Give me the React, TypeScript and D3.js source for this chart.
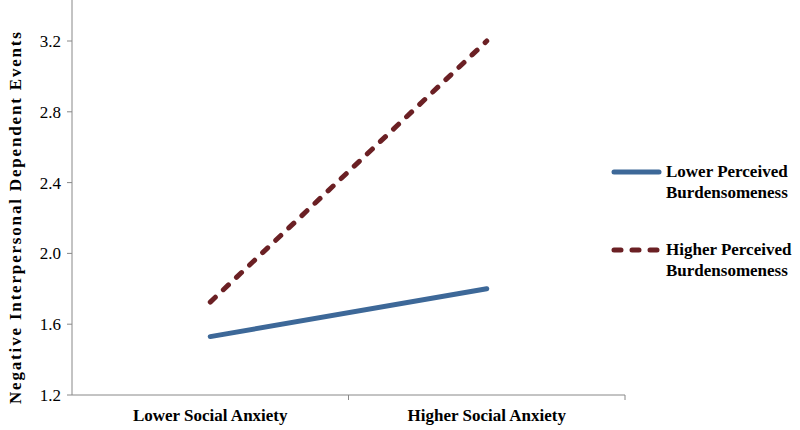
import React from "react";
import * as d3 from "d3";

const categories = ["Lower Social Anxiety", "Higher Social Anxiety"];
const lowerPB = [1.53, 1.8];
const higherPB = [1.725, 3.2];
const yTicks = [1.2, 1.6, 2.0, 2.4, 2.8, 3.2];
const seriesNames = ["Lower Perceived Burdensomeness", "Higher Perceived Burdensomeness"];

const W = 800, H = 430;
const left = 72, right = 625, top = 41, bottom = 395;

export default function App() {
  const x = d3.scaleBand<string>().domain(categories).range([left, right]);
  const y = d3.scaleLinear().domain([1.2, 3.2]).range([bottom, top]);
  const line = d3.line<number>().x((_, i) => (x(categories[i]) as number) + x.bandwidth() / 2).y((d) => y(d));
  const font = "Liberation Serif, Times New Roman, Times, DejaVu Serif, serif";
  const series = [
    { name: seriesNames[0], data: lowerPB, color: "#3d6898", dash: undefined as string | undefined },
    { name: seriesNames[1], data: higherPB, color: "#6b2024", dash: "7 11" },
  ];
  const legendY = [172, 250];
  return (
    <svg width={W} height={H} style={{ position: "absolute", left: 0, top: 0, background: "#fff", fontFamily: font }}>
      <rect width={W} height={H} fill="#fff" />
      <line x1={left} x2={left} y1={0} y2={bottom} stroke="#888" strokeWidth={1} />
      {yTicks.map((t) => (
        <g key={t}>
          <line x1={left - 5} x2={left} y1={y(t)} y2={y(t)} stroke="#888" />
          <text x={left - 11} y={y(t)} dy="0.35em" textAnchor="end" fontSize={17} fill="#000" style={{ fontFamily: font }}>
            {t.toFixed(1)}
          </text>
        </g>
      ))}
      <line x1={left} x2={right} y1={bottom} y2={bottom} stroke="#888" />
      {[...categories.map((c) => x(c) as number), right].map((p, i) =>
        i === 0 ? null : <line key={i} x1={p} x2={p} y1={bottom} y2={bottom + 5} stroke="#888" />
      )}
      {categories.map((c) => (
        <text key={c} x={(x(c) as number) + x.bandwidth() / 2} y={421} textAnchor="middle" fontSize={17} fontWeight="bold" style={{ fontFamily: font }}>
          {c}
        </text>
      ))}
      <text
        transform={`translate(21, 218) rotate(-90)`}
        textAnchor="middle"
        fontSize={17}
        fontWeight="bold"
        textLength={372}
        lengthAdjust="spacing"
        style={{ fontFamily: font }}
      >
        Negative Interpersonal Dependent Events
      </text>
      {series.map((s) => (
        <path
          key={s.name}
          d={line(s.data) as string}
          fill="none"
          stroke={s.color}
          strokeWidth={5}
          strokeLinecap="round"
          strokeDasharray={s.dash}
        />
      ))}
      {series.map((s, i) => {
        const words = s.name.split(" ");
        return (
          <g key={s.name}>
            <line
              x1={614}
              x2={659}
              y1={legendY[i]}
              y2={legendY[i]}
              stroke={s.color}
              strokeWidth={5}
              strokeLinecap="round"
              strokeDasharray={s.dash}
            />
            <text x={666} y={legendY[i] + 5} fontSize={17} fontWeight="bold" style={{ fontFamily: font }}>
              {words.slice(0, 2).join(" ")}
            </text>
            <text x={666} y={legendY[i] + 26} fontSize={17} fontWeight="bold" style={{ fontFamily: font }}>
              {words.slice(2).join(" ")}
            </text>
          </g>
        );
      })}
    </svg>
  );
}
